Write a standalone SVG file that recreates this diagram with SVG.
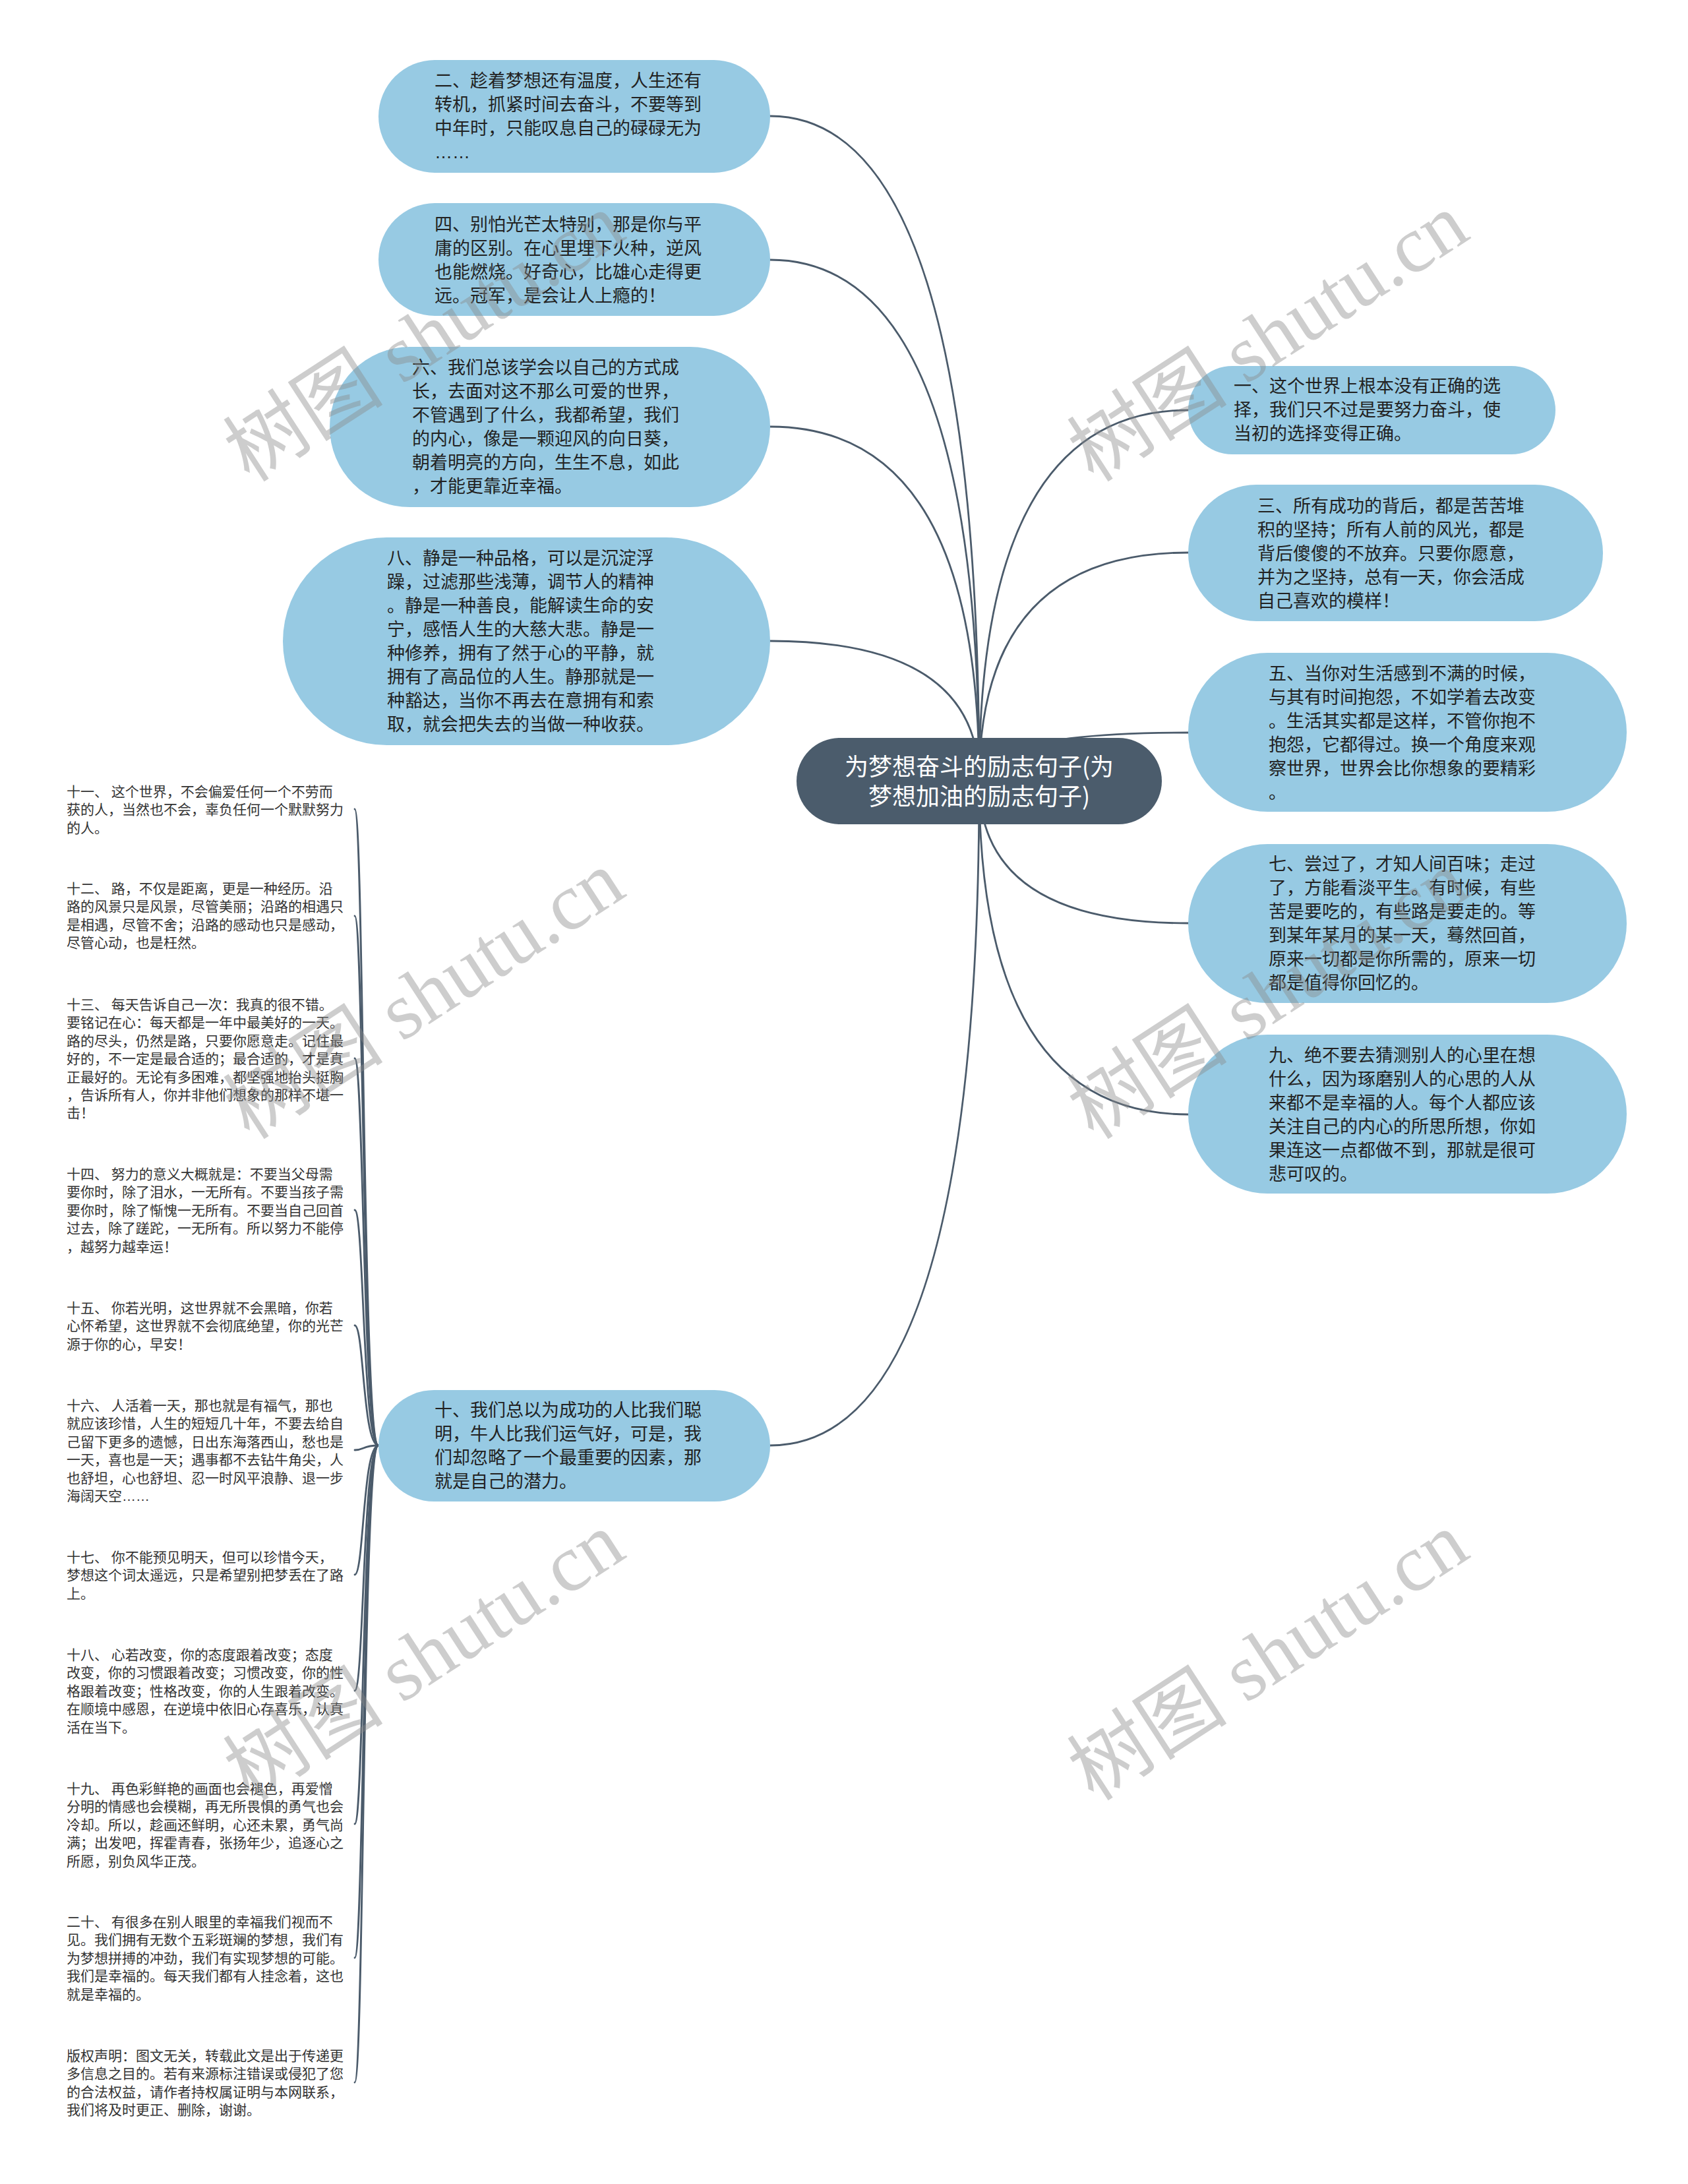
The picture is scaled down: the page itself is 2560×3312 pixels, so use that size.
<svg xmlns="http://www.w3.org/2000/svg" width="2560" height="3312" viewBox="0 0 2560 3312">
<style>
.bg{fill:#ffffff}
.n{fill:#97cae3}
.root{fill:#4b5c6c}
.c{fill:none;stroke:#4b5b6b;stroke-width:2.8;stroke-linecap:round}
.t{font-family:"Noto Sans CJK SC","Noto Sans",sans-serif;font-size:27px;fill:#222222}
.rt{font-family:"Noto Sans CJK SC","Noto Sans",sans-serif;font-size:36px;fill:#ffffff;text-anchor:middle}
.s{font-family:"Noto Sans CJK SC","Noto Sans",sans-serif;font-size:21px;fill:#333333}
.dots{font-family:"Liberation Sans",sans-serif}
.w{font-family:"Liberation Serif","Noto Sans CJK SC",serif;font-size:122px;fill:#8a8a8a;opacity:0.42;text-anchor:middle}
</style>
<rect class="bg" x="0" y="0" width="2560" height="3312"/>
<g id="connectors">
<path class="c" d="M1485 1185 Q1485 176 1168 176"/>
<path class="c" d="M1485 1185 Q1485 394 1168 394"/>
<path class="c" d="M1485 1185 Q1485 647 1168 647"/>
<path class="c" d="M1485 1185 Q1485 972 1168 972"/>
<path class="c" d="M1485 1185 Q1485 2192 1168 2192"/>
<path class="c" d="M1485 1185 Q1485 622 1802 622"/>
<path class="c" d="M1485 1185 Q1485 838 1802 838"/>
<path class="c" d="M1485 1185 Q1485 1111 1802 1111"/>
<path class="c" d="M1485 1185 Q1485 1400 1802 1400"/>
<path class="c" d="M1485 1185 Q1485 1690 1802 1690"/>
<path class="c" d="M574 2192 C550 2192 552 1227 538 1227"/>
<path class="c" d="M574 2192 C550 2192 552 1389 538 1389"/>
<path class="c" d="M574 2192 C550 2192 552 1605 538 1605"/>
<path class="c" d="M574 2192 C550 2192 552 1835 538 1835"/>
<path class="c" d="M574 2192 C550 2192 552 2010 538 2010"/>
<path class="c" d="M574 2192 C550 2192 552 2199 538 2199"/>
<path class="c" d="M574 2192 C550 2192 552 2388 538 2388"/>
<path class="c" d="M574 2192 C550 2192 552 2564 538 2564"/>
<path class="c" d="M574 2192 C550 2192 552 2766 538 2766"/>
<path class="c" d="M574 2192 C550 2192 552 2969 538 2969"/>
<path class="c" d="M574 2192 C550 2192 552 3158 538 3158"/>
</g>
<g id="root">
<rect class="root" x="1208" y="1119" width="554" height="131" rx="65.5"/>
<text class="rt" x="1485" y="1176">为梦想奋斗的励志句子(为</text>
<text class="rt" x="1485" y="1221">梦想加油的励志句子)</text>
</g>
<g id="n1">
<rect class="n" x="1802" y="555" width="557" height="134" rx="67"/>
<text class="t" x="1871" y="595"><tspan x="1871">一、这个世界上根本没有正确的选</tspan><tspan x="1871" dy="36">择，我们只不过是要努力奋斗，使</tspan><tspan x="1871" dy="36">当初的选择变得正确。</tspan></text>
</g>
<g id="n3">
<rect class="n" x="1802" y="735" width="629" height="207" rx="103.5"/>
<text class="t" x="1907" y="777"><tspan x="1907">三、所有成功的背后，都是苦苦堆</tspan><tspan x="1907" dy="36">积的坚持；所有人前的风光，都是</tspan><tspan x="1907" dy="36">背后傻傻的不放弃。只要你愿意，</tspan><tspan x="1907" dy="36">并为之坚持，总有一天，你会活成</tspan><tspan x="1907" dy="36">自己喜欢的模样！</tspan></text>
</g>
<g id="n5">
<rect class="n" x="1802" y="990" width="665" height="241" rx="120.5"/>
<text class="t" x="1924" y="1031"><tspan x="1924">五、当你对生活感到不满的时候，</tspan><tspan x="1924" dy="36">与其有时间抱怨，不如学着去改变</tspan><tspan x="1924" dy="36">。生活其实都是这样，不管你抱不</tspan><tspan x="1924" dy="36">抱怨，它都得过。换一个角度来观</tspan><tspan x="1924" dy="36">察世界，世界会比你想象的要精彩</tspan><tspan x="1924" dy="36">。</tspan></text>
</g>
<g id="n7">
<rect class="n" x="1802" y="1280" width="665" height="241" rx="120.5"/>
<text class="t" x="1924" y="1320"><tspan x="1924">七、尝过了，才知人间百味；走过</tspan><tspan x="1924" dy="36">了，方能看淡平生。有时候，有些</tspan><tspan x="1924" dy="36">苦是要吃的，有些路是要走的。等</tspan><tspan x="1924" dy="36">到某年某月的某一天，蓦然回首，</tspan><tspan x="1924" dy="36">原来一切都是你所需的，原来一切</tspan><tspan x="1924" dy="36">都是值得你回忆的。</tspan></text>
</g>
<g id="n9">
<rect class="n" x="1802" y="1569" width="665" height="241" rx="120.5"/>
<text class="t" x="1924" y="1610"><tspan x="1924">九、绝不要去猜测别人的心里在想</tspan><tspan x="1924" dy="36">什么，因为琢磨别人的心思的人从</tspan><tspan x="1924" dy="36">来都不是幸福的人。每个人都应该</tspan><tspan x="1924" dy="36">关注自己的内心的所思所想，你如</tspan><tspan x="1924" dy="36">果连这一点都做不到，那就是很可</tspan><tspan x="1924" dy="36">悲可叹的。</tspan></text>
</g>
<g id="n2">
<rect class="n" x="574" y="91" width="594" height="171" rx="85.5"/>
<text class="t" x="659" y="132"><tspan x="659">二、趁着梦想还有温度，人生还有</tspan><tspan x="659" dy="36">转机，抓紧时间去奋斗，不要等到</tspan><tspan x="659" dy="36">中年时，只能叹息自己的碌碌无为</tspan><tspan x="659" dy="36" class="dots">……</tspan></text>
</g>
<g id="n4">
<rect class="n" x="574" y="308" width="594" height="171" rx="85.5"/>
<text class="t" x="659" y="350"><tspan x="659">四、别怕光芒太特别，那是你与平</tspan><tspan x="659" dy="36">庸的区别。在心里埋下火种，逆风</tspan><tspan x="659" dy="36">也能燃烧。好奇心，比雄心走得更</tspan><tspan x="659" dy="36">远。冠军，是会让人上瘾的！</tspan></text>
</g>
<g id="n6">
<rect class="n" x="500" y="526" width="668" height="243" rx="121.5"/>
<text class="t" x="625" y="567"><tspan x="625">六、我们总该学会以自己的方式成</tspan><tspan x="625" dy="36">长，去面对这不那么可爱的世界，</tspan><tspan x="625" dy="36">不管遇到了什么，我都希望，我们</tspan><tspan x="625" dy="36">的内心，像是一颗迎风的向日葵，</tspan><tspan x="625" dy="36">朝着明亮的方向，生生不息，如此</tspan><tspan x="625" dy="36">，才能更靠近幸福。</tspan></text>
</g>
<g id="n8">
<rect class="n" x="429" y="815" width="739" height="315" rx="157.5"/>
<text class="t" x="587" y="856"><tspan x="587">八、静是一种品格，可以是沉淀浮</tspan><tspan x="587" dy="36">躁，过滤那些浅薄，调节人的精神</tspan><tspan x="587" dy="36">。静是一种善良，能解读生命的安</tspan><tspan x="587" dy="36">宁，感悟人生的大慈大悲。静是一</tspan><tspan x="587" dy="36">种修养，拥有了然于心的平静，就</tspan><tspan x="587" dy="36">拥有了高品位的人生。静那就是一</tspan><tspan x="587" dy="36">种豁达，当你不再去在意拥有和索</tspan><tspan x="587" dy="36">取，就会把失去的当做一种收获。</tspan></text>
</g>
<g id="n10">
<rect class="n" x="574" y="2108" width="594" height="169" rx="84.5"/>
<text class="t" x="659" y="2148"><tspan x="659">十、我们总以为成功的人比我们聪</tspan><tspan x="659" dy="36">明，牛人比我们运气好，可是，我</tspan><tspan x="659" dy="36">们却忽略了一个最重要的因素，那</tspan><tspan x="659" dy="36">就是自己的潜力。</tspan></text>
</g>
<g id="n11">
<text class="s" x="101" y="1208"><tspan x="101">十一、 这个世界，不会偏爱任何一个不劳而</tspan><tspan x="101" dy="27.4">获的人，当然也不会，辜负任何一个默默努力</tspan><tspan x="101" dy="27.4">的人。</tspan></text>
</g>
<g id="n12">
<text class="s" x="101" y="1355"><tspan x="101">十二、 路，不仅是距离，更是一种经历。沿</tspan><tspan x="101" dy="27.4">路的风景只是风景，尽管美丽；沿路的相遇只</tspan><tspan x="101" dy="27.4">是相遇，尽管不舍；沿路的感动也只是感动，</tspan><tspan x="101" dy="27.4">尽管心动，也是枉然。</tspan></text>
</g>
<g id="n13">
<text class="s" x="101" y="1531"><tspan x="101">十三、 每天告诉自己一次：我真的很不错。</tspan><tspan x="101" dy="27.4">要铭记在心：每天都是一年中最美好的一天。</tspan><tspan x="101" dy="27.4">路的尽头，仍然是路，只要你愿意走。记住最</tspan><tspan x="101" dy="27.4">好的，不一定是最合适的；最合适的，才是真</tspan><tspan x="101" dy="27.4">正最好的。无论有多困难，都坚强地抬头挺胸</tspan><tspan x="101" dy="27.4">，告诉所有人，你并非他们想象的那样不堪一</tspan><tspan x="101" dy="27.4">击！</tspan></text>
</g>
<g id="n14">
<text class="s" x="101" y="1788"><tspan x="101">十四、 努力的意义大概就是：不要当父母需</tspan><tspan x="101" dy="27.4">要你时，除了泪水，一无所有。不要当孩子需</tspan><tspan x="101" dy="27.4">要你时，除了惭愧一无所有。不要当自己回首</tspan><tspan x="101" dy="27.4">过去，除了蹉跎，一无所有。所以努力不能停</tspan><tspan x="101" dy="27.4">，越努力越幸运！</tspan></text>
</g>
<g id="n15">
<text class="s" x="101" y="1991"><tspan x="101">十五、 你若光明，这世界就不会黑暗，你若</tspan><tspan x="101" dy="27.4">心怀希望，这世界就不会彻底绝望，你的光芒</tspan><tspan x="101" dy="27.4">源于你的心，早安！</tspan></text>
</g>
<g id="n16">
<text class="s" x="101" y="2139"><tspan x="101">十六、 人活着一天，那也就是有福气，那也</tspan><tspan x="101" dy="27.4">就应该珍惜，人生的短短几十年，不要去给自</tspan><tspan x="101" dy="27.4">己留下更多的遗憾，日出东海落西山，愁也是</tspan><tspan x="101" dy="27.4">一天，喜也是一天；遇事都不去钻牛角尖，人</tspan><tspan x="101" dy="27.4">也舒坦，心也舒坦、忍一时风平浪静、退一步</tspan><tspan x="101" dy="27.4">海阔天空<tspan class="dots">……</tspan></tspan></text>
</g>
<g id="n17">
<text class="s" x="101" y="2369"><tspan x="101">十七、 你不能预见明天，但可以珍惜今天，</tspan><tspan x="101" dy="27.4">梦想这个词太遥远，只是希望别把梦丢在了路</tspan><tspan x="101" dy="27.4">上。</tspan></text>
</g>
<g id="n18">
<text class="s" x="101" y="2517"><tspan x="101">十八、 心若改变，你的态度跟着改变；态度</tspan><tspan x="101" dy="27.4">改变，你的习惯跟着改变；习惯改变，你的性</tspan><tspan x="101" dy="27.4">格跟着改变；性格改变，你的人生跟着改变。</tspan><tspan x="101" dy="27.4">在顺境中感恩，在逆境中依旧心存喜乐，认真</tspan><tspan x="101" dy="27.4">活在当下。</tspan></text>
</g>
<g id="n19">
<text class="s" x="101" y="2720"><tspan x="101">十九、 再色彩鲜艳的画面也会褪色，再爱憎</tspan><tspan x="101" dy="27.4">分明的情感也会模糊，再无所畏惧的勇气也会</tspan><tspan x="101" dy="27.4">冷却。所以，趁画还鲜明，心还未累，勇气尚</tspan><tspan x="101" dy="27.4">满；出发吧，挥霍青春，张扬年少，追逐心之</tspan><tspan x="101" dy="27.4">所愿，别负风华正茂。</tspan></text>
</g>
<g id="n20">
<text class="s" x="101" y="2922"><tspan x="101">二十、 有很多在别人眼里的幸福我们视而不</tspan><tspan x="101" dy="27.4">见。我们拥有无数个五彩斑斓的梦想，我们有</tspan><tspan x="101" dy="27.4">为梦想拼搏的冲劲，我们有实现梦想的可能。</tspan><tspan x="101" dy="27.4">我们是幸福的。每天我们都有人挂念着，这也</tspan><tspan x="101" dy="27.4">就是幸福的。</tspan></text>
</g>
<g id="n21">
<text class="s" x="101" y="3125"><tspan x="101">版权声明：图文无关，转载此文是出于传递更</tspan><tspan x="101" dy="27.4">多信息之目的。若有来源标注错误或侵犯了您</tspan><tspan x="101" dy="27.4">的合法权益，请作者持权属证明与本网联系，</tspan><tspan x="101" dy="27.4">我们将及时更正、删除，谢谢。</tspan></text>
</g>
<g id="watermarks">
<text class="w" transform="translate(644,513) rotate(-33)" y="40">树图 shutu.cn</text>
<text class="w" transform="translate(1924,513) rotate(-33)" y="40">树图 shutu.cn</text>
<text class="w" transform="translate(644,1510) rotate(-33)" y="40">树图 shutu.cn</text>
<text class="w" transform="translate(1924,1510) rotate(-33)" y="40">树图 shutu.cn</text>
<text class="w" transform="translate(644,2513) rotate(-33)" y="40">树图 shutu.cn</text>
<text class="w" transform="translate(1924,2513) rotate(-33)" y="40">树图 shutu.cn</text>
</g>
</svg>
